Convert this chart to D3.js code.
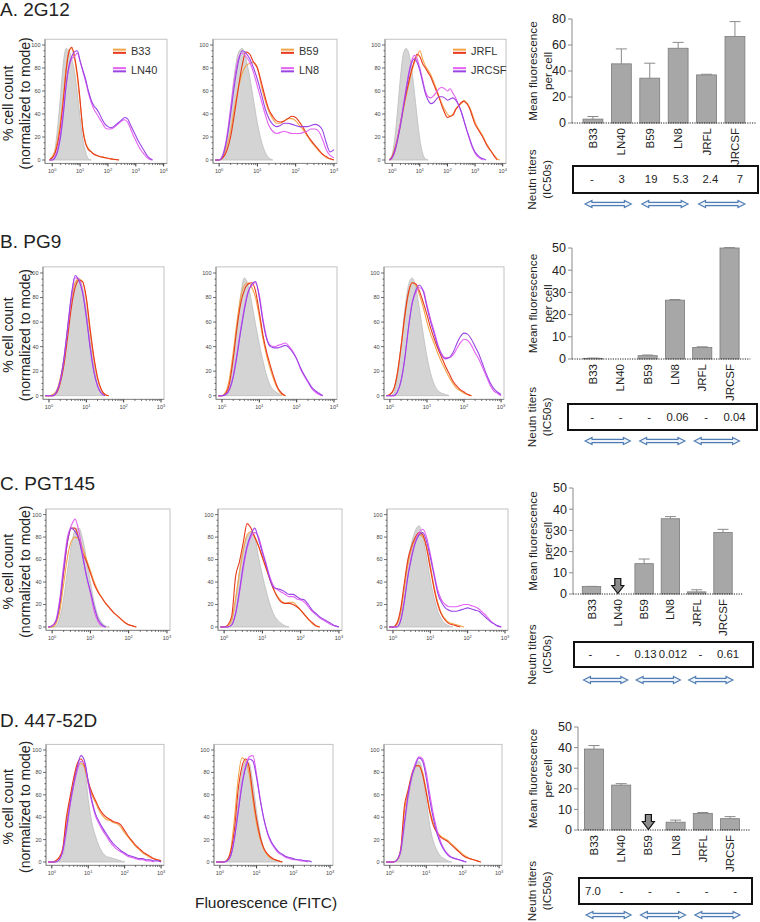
<!DOCTYPE html>
<html><head><meta charset="utf-8">
<script src="https://cdn.jsdelivr.net/npm/d3@7/dist/d3.min.js"></script>
<style>
body{margin:0;background:#fff;}
svg text{font-family:"Liberation Sans",Arial,sans-serif;fill:#222;}
</style></head>
<body><svg id="c" width="760" height="922"></svg>
<script>
// ================= DATA =================
const panelTitles = ["A. 2G12", "B. PG9", "C. PGT145", "D. 447-52D"];
const categories = ["B33", "LN40", "B59", "LN8", "JRFL", "JRCSF"];
const legendPairs = [["B33", "LN40"], ["B59", "LN8"], ["JRFL", "JRCSF"]];

// Mean fluorescence per cell (bar value) and top of error bar
const mfiA = [3, 45.5, 34.5, 57.5, 37, 66.5];
const errTopA = [5, 57, 46, 62, 37.5, 78];
const mfiB = [0.3, 0, 1.5, 26.5, 5.2, 50];
const errTopB = [0.4, 0, 1.8, 26.8, 5.5, 50.2];
const mfiC = [3.5, 0, 14.3, 35.5, 1, 29];
const errTopC = [3.6, 0, 16.5, 36.5, 2, 30.5];
const mfiD = [39.3, 21.8, 0, 3.8, 8, 5.5];
const errTopD = [41, 22.5, 0, 4.8, 8.5, 6.5];
const yTicksA = [0, 20, 40, 60, 80];
const yTicksBCD = [0, 10, 20, 30, 40, 50];

// Neutralization titers (IC50s)
const neutA = ["-", "3", "19", "5.3", "2.4", "7"];
const neutB = ["-", "-", "-", "0.06", "-", "0.04"];
const neutC = ["-", "-", "0.13", "0.012", "-", "0.61"];
const neutD = ["7.0", "-", "-", "-", "-", "-"];
const markedC = ["LN40"];
const markedD = ["B59"];

// Histograms: % cell count (normalized to mode), sampled at log10(FITC) = -0.1, 0, 0.1, 0.2, ...
const a1Gray = [0,2,10,30,57,85,97,95,88,77,58,37,18,7,1,0];
const a1Orange = [0,3,8,18,34,56,80,95,97,88,72,50,27,15,10,7,5,4,3,2.5,2,1.5,1,0.6,0.3,0];
const a1Red = [0,2,6,15,30,52,78,94,98,90,75,52,26,14,9,7,5,4,3,2.5,2,1.5,1,0.6,0.3,0];
const a1Magenta = [0,0,3,10,24,44,66,80,88,90,93,86,77,68,58,50,44,40,36,32,28,27,27,28,30,32,34,35,33,28,22,17,12,8,5,2,0.5,0];
const a1Purple = [0,0,2,8,20,40,65,82,90,94,95,86,78,70,60,52,47,44,40,35,31,29,28,29,31,33,35,37,36,31,26,21,16,12,8,4,1.5,0];

const a2Gray = [0,0,3,15,45,75,93,97,88,72,52,32,17,7,2,0];
const a2Orange = [0,0,3,12,25,45,62,75,82,84,85,80,65,52,42,36,32,32,34,36,36,34,30,26,21,16,12,8,5,2,1,0];
const a2Red = [0,0,2,8,20,40,62,82,94,92,85,80,68,55,44,38,34,33,34,36,38,37,33,28,22,17,13,9,5,3,1,0];
const a2Magenta = [0,0,5,20,45,70,88,93,90,85,76,64,52,40,30,25,23,24,25,24,23,23,23,24,25,27,27,25,18,9,4,2];
const a2Purple = [0,0,4,18,40,65,85,95,93,88,80,70,58,45,36,31,29,30,32,32,31,30,29,29,29,30,31,30,26,15,7,9];

const a3Gray = [1,5,20,45,72,92,97,93,80,60,38,18,6,1,0];
const a3Orange = [0,2,8,18,30,43,55,66,76,84,90,95,88,82,78,74,68,62,55,49,44,40,38,40,44,47,49,52,50,46,40,33,28,24,20,15,11,7,4,1,0];
const a3Red = [0,3,10,20,32,45,57,68,78,86,92,90,84,80,76,72,66,60,54,47,41,37,38,39,44,47,50,51,49,45,38,31,27,23,19,14,10,7,3,0];
const a3Magenta = [0,2,8,19,32,47,62,76,86,91,88,80,70,60,55,54,56,59,62,63,62,60,62,58,54,48,42,34,26,18,11,6,3,1,0];
const a3Purple = [0,2,8,18,30,45,60,74,84,88,85,78,68,58,52,49,50,53,55,55,54,52,53,54,52,48,42,34,26,19,12,7,4,2,1,0];

const b1Gray = [0,0,0,2,10,25,50,75,92,96,88,70,45,25,10,3,0];
const b1Orange = [0,0,1,4,14,30,55,78,92,95,93,78,52,30,14,5,1,0];
const b1Red = [0,0,0,2,10,25,48,72,88,94,93,80,55,32,15,5,1,0];
const b1Magenta = [0,0,0,3,12,30,55,80,96,95,85,65,40,20,8,2,0];
const b1Purple = [0,0,0,3,12,30,56,82,98,94,84,64,40,20,8,2,0];

const b2Gray = [0,0,1,8,28,55,82,96,90,75,58,42,28,16,8,4,2,0];
const b2Orange = [0,0,3,14,35,60,80,90,92,88,80,64,46,32,21,12,5,1,0];
const b2Red = [0,0,2,10,30,55,75,86,91,92,85,68,49,35,24,14,6,2,0];
const b2Magenta = [0,0,1,5,16,34,54,72,85,90,92,82,62,47,41,40,41,42,43,40,36,30,22,16,11,6,3,1,0];
const b2Purple = [0,0,1,5,15,32,52,70,84,91,93,80,60,46,40,39,39,40,41,39,35,30,23,17,12,7,4,2,0];

const b3Gray = [0,0,2,15,40,70,90,96,88,70,50,32,18,9,4,2,1,0];
const b3Orange = [0,1,5,18,40,64,83,92,90,82,72,60,50,42,34,27,21,15,10,6,4,2,1,0];
const b3Red = [0,1,5,18,40,65,84,92,91,85,76,66,55,46,38,31,24,18,12,8,5,3,1,0];
const b3Magenta = [0,0,0,3,12,30,55,76,84,88,86,74,62,52,41,34,31,31,33,38,43,46,45,41,35,30,23,16,9,4,2,0];
const b3Purple = [0,0,0,3,12,30,55,75,86,90,85,72,60,50,40,33,30,31,35,42,48,51,50,46,40,34,26,18,11,6,3,1];

const c1Gray = [0,0,1,8,25,50,72,86,88,78,60,40,22,10,4,1,0];
const c1Orange = [0,0,3,14,38,62,76,80,78,70,60,50,40,32,26,21,17,13,10,7,4,2,1,0];
const c1Red = [0,1,5,20,48,75,88,88,78,66,58,48,38,31,26,21,17,13,10,7,4,2,1,0];
const c1Magenta = [0,1,6,25,55,80,90,96,85,65,45,30,14,5,1,0];
const c1Purple = [0,1,5,22,50,76,88,85,78,62,45,32,18,7,2,0];

const c2Gray = [0,0,1,8,25,50,70,80,84,80,62,46,32,20,11,6,3,1,0];
const c2Orange = [0,0,1,6,25,48,68,82,85,80,72,62,52,42,33,27,23,21,22,22,19,15,11,7,3,1,0];
const c2Red = [0,0,2,10,45,58,75,92,88,80,72,62,52,42,33,26,22,21,21,20,18,15,11,7,4,1,0];
const c2Magenta = [0,0,0,2,12,30,52,70,80,84,80,68,56,44,36,33,31,29,27,27,25,24,22,18,14,11,8,6,4,2,1,0];
const c2Purple = [0,0,0,2,12,32,55,72,82,88,78,66,55,42,35,34,33,31,29,29,27,25,24,20,15,12,9,7,5,3,1,0];

const c3Gray = [0,0,2,12,35,60,75,86,90,80,62,42,26,14,7,3,1,0];
const c3Orange = [0,0,2,12,34,56,70,78,82,80,72,55,36,22,12,7,4,3,2,1,0];
const c3Red = [0,0,3,15,38,60,72,80,84,82,70,52,34,20,11,6,3,2,1,0];
const c3Magenta = [0,0,0,5,22,46,64,76,84,87,80,65,48,33,24,20,18,18,18,19,20,20,19,18,16,13,10,6,3,1,0];
const c3Purple = [0,0,0,5,22,45,62,75,82,84,76,62,46,30,22,17,15,14,14,15,16,17,16,15,14,11,8,5,3,1,0];

const d1Gray = [0,0,0,1,5,25,50,68,82,90,84,56,35,23,14,8,5,4,3,2,1,0];
const d1Orange = [0,0,1,4,11,36,55,72,85,88,84,70,60,53,46,41,38,37,35,34,31,26,22,18,14,11,8,6,4,3,2,1];
const d1Red = [0,0,1,4,12,40,58,75,88,92,86,72,62,55,48,43,40,38,36,35,33,28,23,19,15,12,9,7,5,3,2,1];
const d1Magenta = [0,0,0,2,9,28,50,68,82,90,88,70,53,41,34,28,23,18,14,11,9,7,5,4,3,2,2,1,1,0];
const d1Purple = [0,0,0,2,10,30,52,70,85,95,90,72,55,43,36,30,25,20,16,13,10,8,6,5,4,3,3,2,2,1,1,0];

const d2Gray = [0,0,0,1,6,25,55,80,90,88,70,45,25,12,6,3,2,1,0];
const d2Orange = [0,0,0,2,12,40,75,93,90,78,55,34,20,11,6,3,2,1,0];
const d2Red = [0,0,0,2,10,30,65,85,92,84,60,38,22,12,7,4,2,1,0];
const d2Magenta = [0,0,0,1,6,22,46,70,86,94,95,78,56,38,25,17,12,8,6,4,3,2,2,1,1,0];
const d2Purple = [0,0,0,1,6,22,45,68,84,92,90,75,55,38,26,18,13,9,7,5,4,3,2,2,1,1,0];

const d3Gray = [0,0,0,1,8,30,55,72,84,90,80,55,32,18,10,5,3,1,0];
const d3Orange = [0,0,0,2,10,45,62,76,85,86,80,64,46,34,27,23,21,19,16,13,10,7,5,3,2,1,0];
const d3Red = [0,0,0,2,12,50,64,78,86,86,78,62,44,32,26,22,20,18,15,12,9,6,4,3,2,1,0];
const d3Magenta = [0,0,0,2,10,34,58,76,88,94,92,80,60,42,28,18,11,7,4,3,2,1,0];
const d3Purple = [0,0,0,2,10,35,60,76,86,93,90,75,55,38,25,16,10,6,4,3,2,1,0];

const GRID_START = -0.1, GRID_STEP = 0.1;

// ================= LAYOUT / STYLE =================
const COLORS = {orange:"#f3a54a", red:"#e8391c", magenta:"#e461f2", purple:"#9a44e6"};
const svg = d3.select("#c");

const histData = [
  [{gray:a1Gray,orange:a1Orange,red:a1Red,magenta:a1Magenta,purple:a1Purple},
   {gray:a2Gray,orange:a2Orange,red:a2Red,magenta:a2Magenta,purple:a2Purple},
   {gray:a3Gray,orange:a3Orange,red:a3Red,magenta:a3Magenta,purple:a3Purple}],
  [{gray:b1Gray,orange:b1Orange,red:b1Red,magenta:b1Magenta,purple:b1Purple},
   {gray:b2Gray,orange:b2Orange,red:b2Red,magenta:b2Magenta,purple:b2Purple},
   {gray:b3Gray,orange:b3Orange,red:b3Red,magenta:b3Magenta,purple:b3Purple}],
  [{gray:c1Gray,orange:c1Orange,red:c1Red,magenta:c1Magenta,purple:c1Purple},
   {gray:c2Gray,orange:c2Orange,red:c2Red,magenta:c2Magenta,purple:c2Purple},
   {gray:c3Gray,orange:c3Orange,red:c3Red,magenta:c3Magenta,purple:c3Purple}],
  [{gray:d1Gray,orange:d1Orange,red:d1Red,magenta:d1Magenta,purple:d1Purple},
   {gray:d2Gray,orange:d2Orange,red:d2Red,magenta:d2Magenta,purple:d2Purple},
   {gray:d3Gray,orange:d3Orange,red:d3Red,magenta:d3Magenta,purple:d3Purple}]
];

const histRows = [
  {title:16, yZero:160, k:1.15, plots:[{x0:45,x1:167,dec:4},{x0:213,x1:337,dec:3},{x0:385,x1:506,dec:4}]},
  {title:248, yZero:395.7, k:1.227, plots:[{x0:43,x1:164,dec:3},{x0:216,x1:337,dec:3},{x0:384,x1:504,dec:3}]},
  {title:490, yZero:627, k:1.124, plots:[{x0:46,x1:170,dec:3},{x0:218,x1:342,dec:3},{x0:387,x1:508,dec:3}]},
  {title:727, yZero:862, k:1.12, plots:[{x0:46,x1:164,dec:3},{x0:214,x1:333,dec:3},{x0:384,x1:502,dec:3}]}
];

const barRows = [
  {vals:mfiA, err:errTopA, ticks:yTicksA, ymax:80, y0:123, yTop:19, axisX:572, band:[574.5,753.4], box:[573,166,758,193], arrowY:204, neut:neutA, marked:[]},
  {vals:mfiB, err:errTopB, ticks:yTicksBCD, ymax:50, y0:359, yTop:248, axisX:572, band:[575.3,747.3], box:[568,404,757,430], arrowY:441, neut:neutB, marked:[]},
  {vals:mfiC, err:errTopC, ticks:yTicksBCD, ymax:50, y0:594, yTop:488, axisX:573, band:[574.4,740.1], box:[574,642,753,667], arrowY:680, neut:neutC, marked:markedC},
  {vals:mfiD, err:errTopD, ticks:yTicksBCD, ymax:50, y0:830, yTop:727, axisX:578, band:[576.3,747.7], box:[579,878,752,904], arrowY:915, neut:neutD, marked:markedD}
];

let clipCount = 0;
function toPoints(arr){ return arr.map((v,i)=>[Math.pow(10, GRID_START + i*GRID_STEP), v]); }

function drawHist(p, row, curves, legend){
  const lo = p.dec===4 ? -0.26 : -0.16, hi = p.dec===4 ? 4.12 : 3.08;
  const x = d3.scaleLog().domain([Math.pow(10,lo), Math.pow(10,hi)]).range([p.x0, p.x1]);
  const y = d3.scaleLinear().domain([0,100]).range([row.yZero, row.yZero-100*row.k]);
  const top = y(105), bot = y(-3);
  const g = svg.append("g");
  const cid = "clip"+(clipCount++);
  g.append("clipPath").attr("id",cid).append("rect").attr("x",p.x0).attr("y",top).attr("width",p.x1-p.x0).attr("height",bot-top);
  const inner = g.append("g").attr("clip-path","url(#"+cid+")");
  inner.append("path").datum(toPoints(curves.gray))
    .attr("d", d3.area().x(d=>x(d[0])).y0(y(0)).y1(d=>y(d[1])).curve(d3.curveMonotoneX))
    .attr("fill","#d4d4d4").attr("stroke","#bdbdbd").attr("stroke-width",0.8);
  const line = d3.line().x(d=>x(d[0])).y(d=>y(d[1])).curve(d3.curveMonotoneX);
  ["orange","red","magenta","purple"].forEach(c=>{
    inner.append("path").datum(toPoints(curves[c])).attr("d",line)
      .attr("fill","none").attr("stroke",COLORS[c]).attr("stroke-width",1.1).attr("stroke-linejoin","round");
  });
  g.append("rect").attr("x",p.x0).attr("y",top).attr("width",p.x1-p.x0).attr("height",bot-top)
    .attr("fill","none").attr("stroke","#c2c2c2").attr("stroke-width",1);
  g.append("line").attr("x1",p.x0).attr("x2",p.x0).attr("y1",top).attr("y2",bot).attr("stroke","#888");
  g.append("line").attr("x1",p.x0).attr("x2",p.x1).attr("y1",bot).attr("y2",bot).attr("stroke","#888");
  for(let v=0; v<=100; v+=5){
    const major = v%20===0;
    g.append("line").attr("x1",p.x0).attr("x2",p.x0-(major?3:1.5)).attr("y1",y(v)).attr("y2",y(v))
      .attr("stroke","#333").attr("stroke-width",0.7);
    if(major) g.append("text").attr("x",p.x0-4.5).attr("y",y(v)).attr("dy","0.35em")
      .attr("text-anchor","end").style("font-size","5.5px").style("fill","#444").text(v);
  }
  for(let d=0; d<=p.dec; d++){
    for(let m=1; m<=9; m++){
      const v = m*Math.pow(10,d);
      if(v > x.domain()[1]) continue;
      g.append("line").attr("x1",x(v)).attr("x2",x(v)).attr("y1",bot).attr("y2",bot+(m===1?3:1.6))
        .attr("stroke","#333").attr("stroke-width",m===1?1:0.7);
    }
    const t = g.append("text").attr("x",x(Math.pow(10,d))).attr("y",bot+10).attr("text-anchor","middle")
      .style("font-size","5.5px").style("fill","#444");
    t.append("tspan").text("10");
    t.append("tspan").attr("dy",-2.2).style("font-size","4px").text(d);
  }
  if(legend){
    const lx0 = p.x0+68, lx1 = p.x0+81;
    [[top+12,["orange","red"],legend[0]],[top+30.5,["magenta","purple"],legend[1]]].forEach(([cy,cols,label])=>{
      g.append("line").attr("x1",lx0).attr("x2",lx1).attr("y1",cy-1.6).attr("y2",cy-1.6).attr("stroke",COLORS[cols[0]]).attr("stroke-width",2);
      g.append("line").attr("x1",lx0).attr("x2",lx1).attr("y1",cy+1.6).attr("y2",cy+1.6).attr("stroke",COLORS[cols[1]]).attr("stroke-width",2);
      g.append("text").attr("x",p.x0+86).attr("y",cy).attr("dy","0.35em").style("font-size","11px").style("fill","#333").text(label);
    });
  }
  return {top, bot};
}

function rotText(x, y, txt, size){
  svg.append("text").attr("transform",`translate(${x},${y}) rotate(-90)`).attr("text-anchor","middle")
    .attr("dy","0.35em").style("font-size",size+"px").text(txt);
}

function doubleArrow(xa, xb, yc){
  const h=7, hh=3.6, sh=1.6;
  const pts = [[xa,yc],[xa+h,yc-hh],[xa+h,yc-sh],[xb-h,yc-sh],[xb-h,yc-hh],[xb,yc],[xb-h,yc+hh],[xb-h,yc+sh],[xa+h,yc+sh],[xa+h,yc+hh]];
  svg.append("path").attr("d","M"+pts.map(p=>p.join(",")).join("L")+"Z")
    .attr("fill","#eef3f9").attr("stroke","#4f7db3").attr("stroke-width",1.1).attr("stroke-linejoin","miter");
}

function drawBars(r){
  const x = d3.scaleBand().domain(categories).range(r.band).paddingInner(0.3).paddingOuter(0.3);
  const y = d3.scaleLinear().domain([0,r.ymax]).range([r.y0, r.yTop]);
  const g = svg.append("g");
  const bw = x.bandwidth();
  categories.forEach((c,i)=>{
    const v = r.vals[i];
    if(v>0){
      g.append("rect").attr("x",x(c)).attr("y",y(v)).attr("width",bw).attr("height",y(0)-y(v))
        .attr("fill","#a7a7a7").attr("stroke","#7b7b7b").attr("stroke-width",0.8);
    }
    const e = r.err[i];
    if(e>v){
      const cx = x(c)+bw/2;
      g.append("line").attr("x1",cx).attr("x2",cx).attr("y1",y(v)).attr("y2",y(e)).attr("stroke","#8a8a8a");
      g.append("line").attr("x1",cx-5.5).attr("x2",cx+5.5).attr("y1",y(e)).attr("y2",y(e)).attr("stroke","#8a8a8a");
    }
  });
  g.append("line").attr("x1",r.axisX).attr("x2",r.axisX).attr("y1",y(r.ymax)).attr("y2",y(0)).attr("stroke","#8a8a8a");
  r.ticks.forEach(t=>{
    g.append("line").attr("x1",r.axisX-4).attr("x2",r.axisX).attr("y1",y(t)).attr("y2",y(t)).attr("stroke","#8a8a8a");
    g.append("text").attr("x",r.axisX-6).attr("y",y(t)).attr("dy","0.35em").attr("text-anchor","end")
      .style("font-size","12.5px").text(t);
  });
  g.append("line").attr("x1",r.axisX).attr("x2",r.band[1]+3).attr("y1",y(0)).attr("y2",y(0))
    .attr("stroke","#222").attr("stroke-width",1).attr("stroke-dasharray","1.2,1.2");
  categories.forEach(c=>{
    const cx = x(c)+bw/2;
    g.append("text").attr("transform",`translate(${cx},${y(0)+5}) rotate(-90)`).attr("text-anchor","end")
      .attr("dy","0.35em").style("font-size","11.5px").text(c);
  });
  r.marked.forEach(c=>{
    const cx = x(c)+bw/2, tip = y(0)-0.5;
    const pts = [[cx,tip],[cx-6,tip-8],[cx-3,tip-8],[cx-3,tip-15],[cx+3,tip-15],[cx+3,tip-8],[cx+6,tip-8]];
    g.append("path").attr("d","M"+pts.map(p=>p.join(",")).join("L")+"Z").attr("fill","#8c8c8c").attr("stroke","#111").attr("stroke-width",1.2);
  });
  const mid = (y(0)+y(r.ymax))/2;
  rotText(533, mid, "Mean fluorescence", 11.8);
  rotText(547.5, mid, "per cell", 11.8);
  const [bx0,by0,bx1,by1] = r.box;
  g.append("rect").attr("x",bx0).attr("y",by0).attr("width",bx1-bx0).attr("height",by1-by0)
    .attr("fill","none").attr("stroke","#111").attr("stroke-width",2);
  categories.forEach((c,i)=>{
    g.append("text").attr("x",x(c)+bw/2+2+(i-2.5)*1.2).attr("y",(by0+by1)/2).attr("dy","0.35em").attr("text-anchor","middle")
      .style("font-size","11.3px").text(r.neut[i]);
  });
  rotText(532, (by0+by1)/2, "Neutn titers", 11.8);
  rotText(546.5, (by0+by1)/2, "(IC50s)", 11.8);
  legendPairs.forEach(([a,b])=>{
    doubleArrow(x(a)+bw/2-8, x(b)+bw/2+10, r.arrowY);
  });
}

// ================= RENDER =================
histRows.forEach((row, ri)=>{
  svg.append("text").attr("x",0).attr("y",row.title).style("font-size","19px").text(panelTitles[ri]);
  let fr;
  row.plots.forEach((p, pi)=>{
    fr = drawHist(p, row, histData[ri][pi], ri===0 ? legendPairs[pi] : null);
  });
  const cy = (fr.top+fr.bot)/2 + 2;
  rotText(8, cy, "% cell count", 14);
  rotText(25, cy, "(normalized to mode)", 14);
  drawBars(barRows[ri]);
});
svg.append("text").attr("x",266).attr("y",903).attr("dy","0.35em").attr("text-anchor","middle")
  .style("font-size","15.5px").text("Fluorescence (FITC)");
</script>
</body></html>
